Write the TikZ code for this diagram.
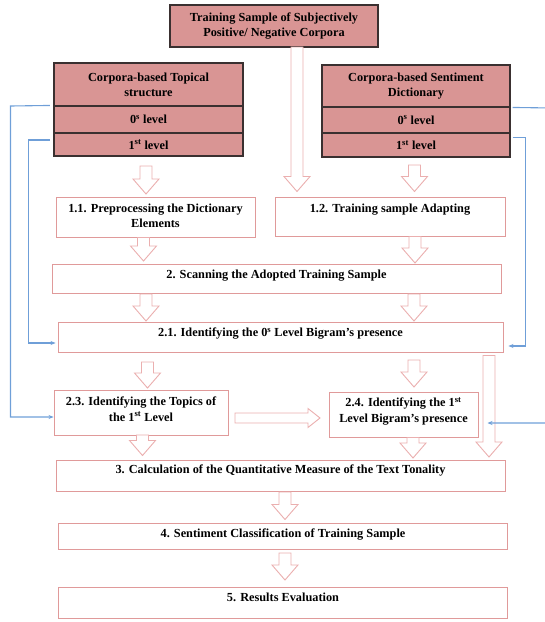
\documentclass[tikz,border=0pt]{standalone}
\usepackage{fontspec}
\setmainfont{Liberation Serif}
\usetikzlibrary{calc,arrows.meta}
\definecolor{hdrfill}{HTML}{D99594}
\definecolor{hdrline}{HTML}{3A3030}
\definecolor{boxline}{HTML}{E09A9A}
\definecolor{arrline}{HTML}{EBAFAF}
\definecolor{conblue}{HTML}{6F9FD8}
\tikzset{
  hdr/.style={draw=hdrline, line width=1.1pt, fill=hdrfill, inner sep=0pt, align=center,
    font=\fontsize{12.3}{15}\selectfont\bfseries},
  wbox/.style={draw=boxline, line width=0.9pt, fill=white, inner sep=0pt},
  lbl/.style={anchor=north, inner sep=0pt, align=center, font=\fontsize{12.3}{15.5}\selectfont\bfseries},
  barrow/.style={draw=arrline, line width=0.9pt, fill=white, line join=miter},
  bline/.style={draw=conblue, line width=1.1pt, -{Stealth[length=5pt,width=4pt]}},
}
% block arrow pointing down: centre x, top y, tip y
\newcommand{\blkdown}[4]{%
  \draw[barrow] (#2-6,#3) -- (#2+6,#3) -- (#2+6,#4-15) -- (#2+13,#4-15) -- (#2,#4)
     -- (#2-13,#4-15) -- (#2-6,#4-15) -- cycle;
  \coordinate (#1) at (#2,#4);}
\begin{document}
\begin{tikzpicture}[x=1pt,y=-1pt]
\useasboundingbox (0,0) rectangle (545,622);
% header boxes
\node[hdr, minimum width=208pt, minimum height=42pt] (top) at (274,26)
  {Training Sample of Subjectively\\Positive/ Negative Corpora};
\node[hdr, minimum width=189pt, minimum height=43pt] (ltT) at (148.5,84.5)
  {Corpora-based Topical\\structure};
\node[hdr, minimum width=189pt, minimum height=27pt] (lt0) at (148.5,119.5)
  {0\textsuperscript{s} level};
\node[hdr, minimum width=189pt, minimum height=23pt] (lt1) at (148.5,144.5)
  {1\textsuperscript{st} level};
\node[hdr, minimum width=188pt, minimum height=42pt] (rtT) at (416,86)
  {Corpora-based Sentiment\\Dictionary};
\node[hdr, minimum width=188pt, minimum height=26pt] (rt0) at (416,120)
  {0\textsuperscript{s} level};
\node[hdr, minimum width=188pt, minimum height=24pt] (rt1) at (416,145)
  {1\textsuperscript{st} level};
% process boxes
\node[wbox, minimum width=199pt, minimum height=40pt] (b11) at (155.5,217) {};
\node[wbox, minimum width=230pt, minimum height=39pt] (b12) at (390,216.5) {};
\node[wbox, minimum width=449pt, minimum height=29pt] (b2) at (276.5,278.5) {};
\node[wbox, minimum width=445pt, minimum height=30pt] (b21) at (280.5,337) {};
\node[wbox, minimum width=174pt, minimum height=45pt] (b23) at (141,412.5) {};
\node[wbox, minimum width=149pt, minimum height=45pt] (b24) at (403.5,414.5) {};
\node[wbox, minimum width=449pt, minimum height=31pt] (b3) at (280.5,475.5) {};
\node[wbox, minimum width=449pt, minimum height=26pt] (b4) at (283,536) {};
\node[wbox, minimum width=449pt, minimum height=31pt] (b5) at (283,602.5) {};
% labels
\node[lbl] (t11) at ($(b11.north)+(0,4.5)$) {\strut1.1. Preprocessing the Dictionary\\Elements};
\node[lbl] (t12) at ($(b12.north)+(0,5)$) {\strut1.2. Training sample Adapting};
\node[lbl] (t2) at ($(b2.north)+(0,4)$) {\strut2. Scanning the Adopted Training Sample};
\node[lbl] (t21) at ($(b21.north)+(0,4)$) {\strut2.1. Identifying the 0\textsuperscript{s} Level Bigram’s presence};
\node[lbl] (t23) at ($(b23.north)+(0,5)$) {\strut2.3. Identifying the Topics of\\the 1\textsuperscript{st} Level};
\node[lbl] (t24) at ($(b24.north)+(0,4)$) {\strut2.4. Identifying the 1\textsuperscript{st}\\Level Bigram’s presence};
\node[lbl] (t3) at ($(b3.north)+(0,2.5)$) {\strut3. Calculation of the Quantitative Measure of the Text Tonality};
\node[lbl] (t4) at ($(b4.north)+(0,4)$) {\strut4. Sentiment Classification of Training Sample};
\node[lbl] (t5) at ($(b5.north)+(0,3.5)$) {\strut5. Results Evaluation};
% block arrows
\blkdown{a0}{297}{47}{191.5}
\blkdown{a1}{146}{166}{194}
\blkdown{a2}{414.5}{165}{191.5}
\blkdown{a3}{143.5}{237.5}{261}
\blkdown{a4}{415}{236.5}{263}
\blkdown{a5}{146}{294}{321}
\blkdown{a6}{414}{294}{321}
\blkdown{a7}{147.5}{362}{388}
\blkdown{a8}{414}{360}{387}
\blkdown{a9}{489}{355.5}{457}
\blkdown{a10}{142.5}{435}{455.5}
\blkdown{a11}{413}{437.5}{458}
\blkdown{a12}{285}{492}{519.5}
\blkdown{a13}{285}{553}{580}
\draw[barrow] (235,413) -- (308,413) -- (308,408.5) -- (320,418) -- (308,427.5) -- (308,423)
   -- (235,423) -- cycle;
\coordinate (h1) at (320,418);
% blue connectors
\draw[bline] ([xshift=-3.5pt]lt0.north west) -- (10.5,106) |- ([yshift=-4.5pt]b23.west);
\draw[bline] ([xshift=-3.5pt,yshift=4.5pt]lt1.west) -- (28.3,140) |- ([xshift=-2pt,yshift=-6pt]b21.west);
\draw[bline] ([xshift=2pt,yshift=-1pt]rt0.north east) -- (553,108) |- (487.5,423);
\draw[bline] ([xshift=2pt,yshift=7.5pt]rt1.east) -- (525.6,137.5) |- ([xshift=5pt,yshift=-9pt]b21.east);
\end{tikzpicture}
\end{document}
